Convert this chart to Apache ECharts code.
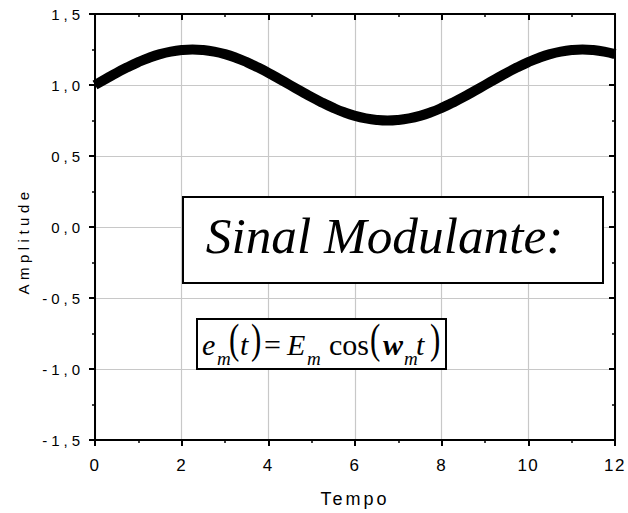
<!DOCTYPE html>
<html>
<head>
<meta charset="utf-8">
<script src="https://cdn.jsdelivr.net/npm/echarts@6/dist/echarts.min.js"></script>
<style>
  html, body { margin: 0; padding: 0; background: #fff; }
  #chart { width: 628px; height: 513px; }
  /* tracking for the sans-serif axis texts */
  #chart text[style*="tickY"] { letter-spacing: 4px; }
  #chart text[style*="tickX"] { letter-spacing: 1.5px; }
  #chart text[style*="nameX"] { letter-spacing: 3px; }
  #chart text[style*="nameY"] { letter-spacing: 4.5px; }
</style>
</head>
<body>
<div id="chart"></div>
<script>
// Modulating signal samples: time (x) and amplitude (y)
const tempo = [
  0, 0.25, 0.5, 0.75, 1, 1.25, 1.5, 1.75, 2, 2.25, 2.5, 2.75,
  3, 3.25, 3.5, 3.75, 4, 4.25, 4.5, 4.75, 5, 5.25, 5.5, 5.75,
  6, 6.25, 6.5, 6.75, 7, 7.25, 7.5, 7.75, 8, 8.25, 8.5, 8.75,
  9, 9.25, 9.5, 9.75, 10, 10.25, 10.5, 10.75, 11, 11.25, 11.5, 11.75, 12
];
const amplitude = [
  1.000, 1.043, 1.086, 1.125, 1.161, 1.192, 1.217, 1.235, 1.246, 1.250, 1.246, 1.235,
  1.217, 1.192, 1.161, 1.125, 1.086, 1.043, 1.000, 0.957, 0.914, 0.875, 0.839, 0.808,
  0.783, 0.765, 0.754, 0.750, 0.754, 0.765, 0.783, 0.808, 0.839, 0.875, 0.914, 0.957,
  1.000, 1.043, 1.086, 1.125, 1.161, 1.192, 1.217, 1.235, 1.246, 1.250, 1.246, 1.235, 1.217
];

// Tick labels
const xTickValues = [0, 2, 4, 6, 8, 10, 12];
const xTickLabels = ['0', '2', '4', '6', '8', '10', '12'];
const yTickValues = [-1.5, -1, -0.5, 0, 0.5, 1, 1.5];
const yTickLabels = ['-1,5', '-1,0', '-0,5', '0,0', '0,5', '1,0', '1,5'];

const xName = 'Tempo';
const yName = 'Amplitude';
const titleText = 'Sinal Modulante:';

const points = tempo.map((t, i) => [t, amplitude[i]]);

const serif = '"Liberation Serif", "Times New Roman", serif';
const sansFor = tag => '"Liberation Sans", Arial, ' + tag;

function lookup(values, labels, v) {
  const i = values.findIndex(u => Math.abs(u - v) < 1e-9);
  return i >= 0 ? labels[i] : '';
}

// Equation e_m(t) = E_m cos(w_m t), laid out glyph group by glyph group.
// kind: i = italic, r = roman, b = bold italic, s = italic subscript, p = tall parenthesis
const eqParts = [
  ['e', 'i', 202], ['m', 's', 217], ['(', 'p', 229], ['t', 'i', 240], [')', 'p', 251],
  ['=', 'r', 264], ['E', 'i', 287], ['m', 's', 307], ['cos', 'r', 329], ['(', 'p', 370],
  ['w', 'b', 383], ['m', 's', 404], ['t', 'i', 416], [')', 'p', 430]
];
const eqBase = 354;
function eqElement(part) {
  const [txt, kind, x] = part;
  let size = 30, style = 'italic', weight = 'normal', base = eqBase, sx = 1;
  if (kind === 'r') style = 'normal';
  if (kind === 'b') weight = 'bold';
  if (kind === 's') { size = 19; base = eqBase + 10; }
  if (kind === 'p') { size = 43; style = 'normal'; base = eqBase - 2; sx = 0.72; }
  return {
    type: 'text', z: 101,
    x: x, y: base - 0.305 * size, scaleX: sx,
    style: { text: txt, fontFamily: serif, fontStyle: style, fontWeight: weight,
      fontSize: size, fill: '#000', align: 'left', verticalAlign: 'middle' }
  };
}

const chart = echarts.init(document.getElementById('chart'), null, { renderer: 'svg' });

const axisLine = { show: true, onZero: false, lineStyle: { color: '#000', width: 2 } };
const gridLine = { show: true, lineStyle: { color: '#c8c8c8', width: 1.2 } };
const majorTick = inside => ({ show: true, inside: inside, length: 6, lineStyle: { color: '#000', width: 2 } });
const minorTick = { show: true, splitNumber: 2, length: 3, lineStyle: { color: '#000', width: 1.5 } };

chart.setOption({
  animation: false,
  backgroundColor: '#fff',
  grid: { left: 95, right: 13, top: 14, bottom: 72, containLabel: false },
  xAxis: [
    {
      type: 'value', min: 0, max: 12, interval: 2, position: 'bottom',
      name: xName, nameLocation: 'middle', nameGap: 50,
      nameTextStyle: { fontFamily: sansFor('nameX'), fontSize: 18, color: '#000' },
      axisLine: axisLine,
      axisTick: majorTick(false),
      minorTick: minorTick,
      axisLabel: { margin: 17, fontFamily: sansFor('tickX'), fontSize: 17, color: '#000',
        formatter: v => lookup(xTickValues, xTickLabels, v) },
      splitLine: gridLine
    },
    {
      type: 'value', min: 0, max: 12, interval: 2, position: 'top',
      axisLine: axisLine,
      axisTick: majorTick(true),
      minorTick: minorTick,
      axisLabel: { show: false },
      splitLine: { show: false }
    }
  ],
  yAxis: [
    {
      type: 'value', min: -1.5, max: 1.5, interval: 0.5, position: 'left',
      axisLine: axisLine,
      axisTick: majorTick(false),
      minorTick: minorTick,
      axisLabel: { margin: 11, fontFamily: sansFor('tickY'), fontSize: 15, color: '#000',
        formatter: v => lookup(yTickValues, yTickLabels, v) },
      splitLine: gridLine
    },
    {
      type: 'value', min: -1.5, max: 1.5, interval: 0.5, position: 'right',
      axisLine: axisLine,
      axisTick: majorTick(true),
      minorTick: minorTick,
      axisLabel: { show: false },
      splitLine: { show: false }
    }
  ],
  series: [
    {
      type: 'line',
      xAxisIndex: 0, yAxisIndex: 0,
      data: points,
      smooth: true,
      symbol: 'none',
      clip: true,
      lineStyle: { color: '#000', width: 10, cap: 'butt', join: 'round' },
      z: 3
    }
  ],
  graphic: [
    {
      type: 'text', z: 50,
      x: 23, y: 241, rotation: Math.PI / 2,
      style: { text: yName, fontFamily: sansFor('nameY'), fontSize: 15, fill: '#000',
        align: 'center', verticalAlign: 'middle' }
    },
    {
      type: 'rect', z: 100,
      shape: { x: 183, y: 197, width: 420, height: 86 },
      style: { fill: '#fff', stroke: '#000', lineWidth: 2 }
    },
    {
      type: 'text', z: 101,
      x: 384.5, y: 251 - 0.305 * 50, scaleX: 1.026,
      style: { text: titleText, fontFamily: serif, fontStyle: 'italic', fontSize: 50,
        fill: '#000', align: 'center', verticalAlign: 'middle' }
    },
    {
      type: 'rect', z: 100,
      shape: { x: 197, y: 319, width: 249, height: 50 },
      style: { fill: '#fff', stroke: '#000', lineWidth: 2 }
    }
  ].concat(eqParts.map(eqElement))
});
</script>
</body>
</html>
